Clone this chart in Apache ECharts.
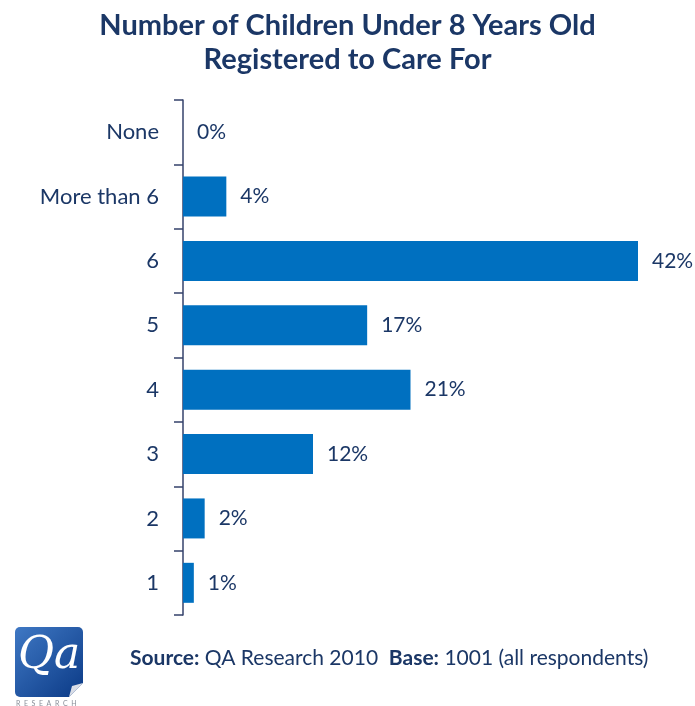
<!DOCTYPE html>
<html>
<head>
<meta charset="utf-8">
<script src="https://cdn.jsdelivr.net/npm/echarts@6/dist/echarts.min.js"></script>
<style>
html,body{margin:0;padding:0;background:#fff;}
#chart{width:695px;height:706px;}
</style>
</head>
<body>
<div id="chart"></div>
<script>
const categories = ['None', 'More than 6', '6', '5', '4', '3', '2', '1'];
const values = [0, 4, 42, 17, 21, 12, 2, 1];
const titleText = 'Number of Children Under 8 Years Old\nRegistered to Care For';

const FONT = 'Lato, "Open Sans", sans-serif';
const NAVY = '#1b3766';

const chart = echarts.init(document.getElementById('chart'), null, {renderer: 'canvas'});
chart.setOption({
  backgroundColor: '#ffffff',
  animation: false,
  title: {
    text: titleText,
    left: 'center',
    top: 4,
    textStyle: {
      fontFamily: FONT,
      fontSize: 29,
      fontWeight: 'bold',
      color: NAVY,
      lineHeight: 34
    }
  },
  grid: {left: 183, right: 57, top: 100, bottom: 91, containLabel: false},
  xAxis: {
    type: 'value', min: 0, max: 42, show: false
  },
  yAxis: {
    type: 'category',
    data: categories,
    inverse: true,
    axisLine: {show: true, lineStyle: {color: '#34426b', width: 1.5}},
    axisTick: {show: true, length: 9, lineStyle: {color: '#34426b', width: 1.5}},
    axisLabel: {
      margin: 24,
      fontFamily: FONT,
      fontSize: 22,
      color: NAVY
    },
    splitLine: {show: false}
  },
  series: [{
    type: 'bar',
    data: values,
    barWidth: 40,
    itemStyle: {color: '#0070c0', borderWidth: 0},
    label: {
      show: true,
      position: 'right',
      distance: 14,
      formatter: '{c}%',
      fontFamily: FONT,
      fontSize: 21,
      color: NAVY
    }
  }],
  graphic: [
    {
      type: 'group', left: 15, top: 627,
      children: [
        {
          type: 'rect', shape: {x: 0, y: 0, width: 68, height: 70, r: 5},
          style: {
            fill: new echarts.graphic.LinearGradient(0, 0, 1, 1, [
              {offset: 0, color: '#3f78c4'},
              {offset: 1, color: '#0b3a86'}
            ])
          }
        },
        {
          type: 'polygon', shape: {points: [[54, 70], [68, 56], [68, 70]]},
          style: {fill: '#ffffff'}
        },
        {
          type: 'polygon', shape: {points: [[54, 70], [68, 56], [57, 59]]},
          style: {fill: '#d9dde6'}
        },
        {
          type: 'text', x: 3, y: 8,
          style: {
            text: 'Qa', fill: '#ffffff',
            font: 'italic 44px "DejaVu Serif", "Liberation Serif", serif'
          }
        },
        {
          type: 'text', x: 1, y: 73,
          style: {
            text: 'R  E  S  E  A  R  C  H', fill: '#8a8f99',
            font: '7px ' + FONT
          }
        }
      ]
    },
    {
      type: 'text', left: 130, top: 648,
      style: {
        text: '{b|Source:} QA Research 2010  {b|Base:} 1001 (all respondents)',
        rich: {
          b: {fontWeight: 'bold', fontFamily: FONT, fontSize: 21, fill: NAVY}
        },
        fill: NAVY,
        font: '21px ' + FONT
      }
    }
  ]
});
</script>
</body>
</html>
